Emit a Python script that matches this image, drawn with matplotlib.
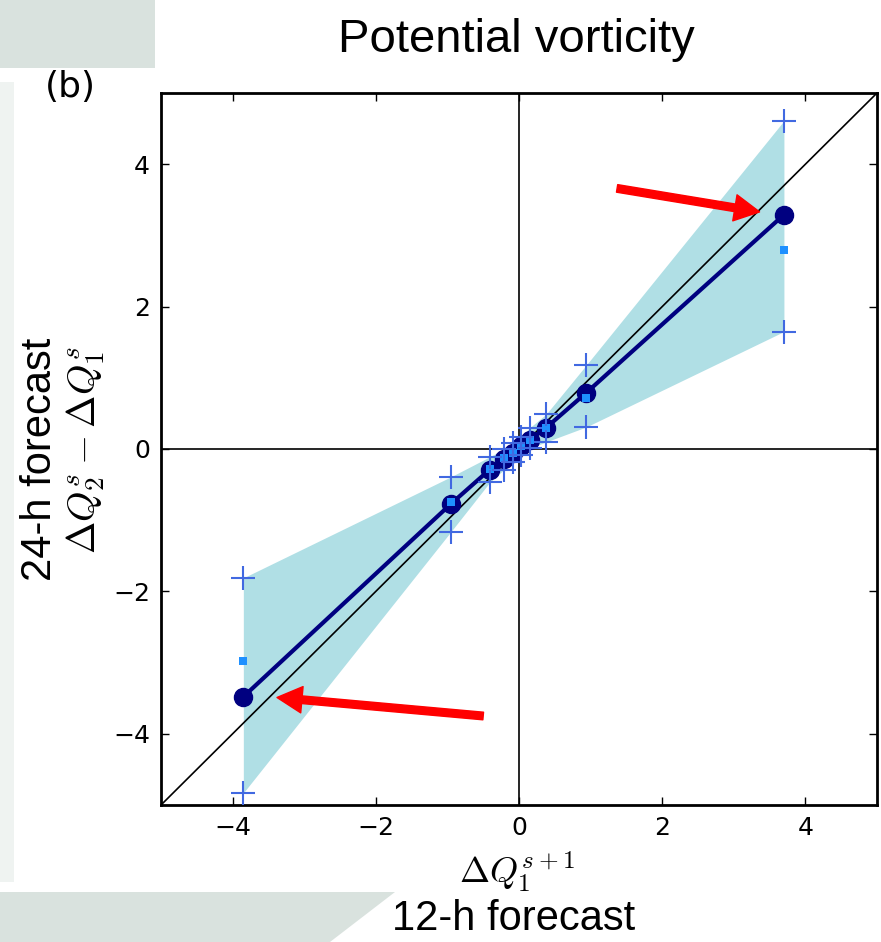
import matplotlib
matplotlib.use('Agg')
import matplotlib.pyplot as plt
from matplotlib.patches import Rectangle, Polygon

plt.rcParams['mathtext.fontset'] = 'cm'

# binned values of the 12-h change vs the 24-h minus 12-h change
bin_x = [-3.85, -0.95, -0.41, -0.21, -0.09, 0.03, 0.15, 0.38, 0.94, 3.70]
bin_mean = [-3.48, -0.77, -0.29, -0.14, -0.05, 0.04, 0.13, 0.30, 0.79, 3.29]
bin_median = [-2.98, -0.74, -0.28, -0.13, -0.05, 0.04, 0.12, 0.29, 0.72, 2.79]
bin_upper = [-1.81, -0.39, -0.11, 0.00, 0.08, 0.17, 0.30, 0.49, 1.18, 4.61]
bin_lower = [-4.83, -1.16, -0.47, -0.29, -0.18, -0.09, 0.01, 0.10, 0.31, 1.65]
ticks = [-4, -2, 0, 2, 4]

# red arrows (tail, head) in data units
arrows = [((1.37, 3.66), (3.36, 3.33)),
          ((-0.50, -3.75), (-3.38, -3.49))]

fig = plt.figure(figsize=(8.81, 9.42), dpi=100)

# slide background decorations
bg = '#d9e2de'
fig.patches.append(Rectangle((0, 1 - 68/942), 155/881, 68/942, transform=fig.transFigure,
                             facecolor=bg, edgecolor='none', zorder=0))
fig.patches.append(Polygon([(0, 0), (0, 50/942), (395/881, 50/942), (330/881, 0)],
                           closed=True, transform=fig.transFigure,
                           facecolor=bg, edgecolor='none', zorder=0))
fig.patches.append(Rectangle((0, 60/942), 14/881, 800/942, transform=fig.transFigure,
                             facecolor=bg, edgecolor='none', alpha=0.4, zorder=0))

ax = fig.add_axes([161/881, 1 - 805/942, 716/881, 712/942])

ax.axhline(0, color='black', lw=1.2, zorder=1)
ax.axvline(0, color='black', lw=1.2, zorder=1)
ax.fill_between(bin_x, bin_lower, bin_upper, color='#b0dfe5', lw=0, zorder=2)
ax.plot([-5, 5], [-5, 5], color='black', lw=1.2, zorder=3)
ax.plot(bin_x, bin_mean, color='navy', lw=3, zorder=4)
ax.plot(bin_x, bin_mean, 'o', color='navy', ms=13, zorder=5)
ax.plot(bin_x, bin_median, 's', color='#1e90ff', ms=6, mew=0, zorder=6)
ax.plot(bin_x, bin_upper, '+', color='#4169e1', ms=17, mew=1.5, zorder=6)
ax.plot(bin_x, bin_lower, '+', color='#4169e1', ms=17, mew=1.5, zorder=6)

for tail, head in arrows:
    ax.annotate('', xy=head, xytext=tail,
                arrowprops=dict(arrowstyle='simple,head_length=1.8,head_width=1.9,tail_width=0.55',
                                color='red', mutation_scale=10, shrinkA=0, shrinkB=0),
                zorder=7)

ax.set_xlim(-5, 5)
ax.set_ylim(-5, 5)
ax.set_xticks(ticks)
ax.set_yticks(ticks)
ax.tick_params(direction='in', top=True, right=True, length=6, width=1,
               labelsize=18, pad=8)
for sp in ax.spines.values():
    sp.set_linewidth(2)

fig.text(0.5857, 0.9575, 'Potential vorticity', family='Liberation Sans',
         fontsize=34, ha='center', va='center')
fig.text(0.0795, 0.9076, '(b)', fontsize=26, ha='center', va='center')
fig.text(0.0454, 0.5127, '24-h forecast', family='Liberation Sans', fontsize=30,
         rotation=90, ha='center', va='center')
fig.text(0.0976, 0.5223, r'$\Delta Q_2^s - \Delta Q_1^s$', fontsize=28,
         rotation=90, ha='center', va='center')
fig.text(0.5868, 0.0743, r'$\Delta Q_1^{s+1}$', fontsize=26, ha='center', va='center')
fig.text(0.5834, 0.024, '12-h forecast', family='Liberation Sans', fontsize=30,
         ha='center', va='center')

fig.savefig('out.png', dpi=100)
